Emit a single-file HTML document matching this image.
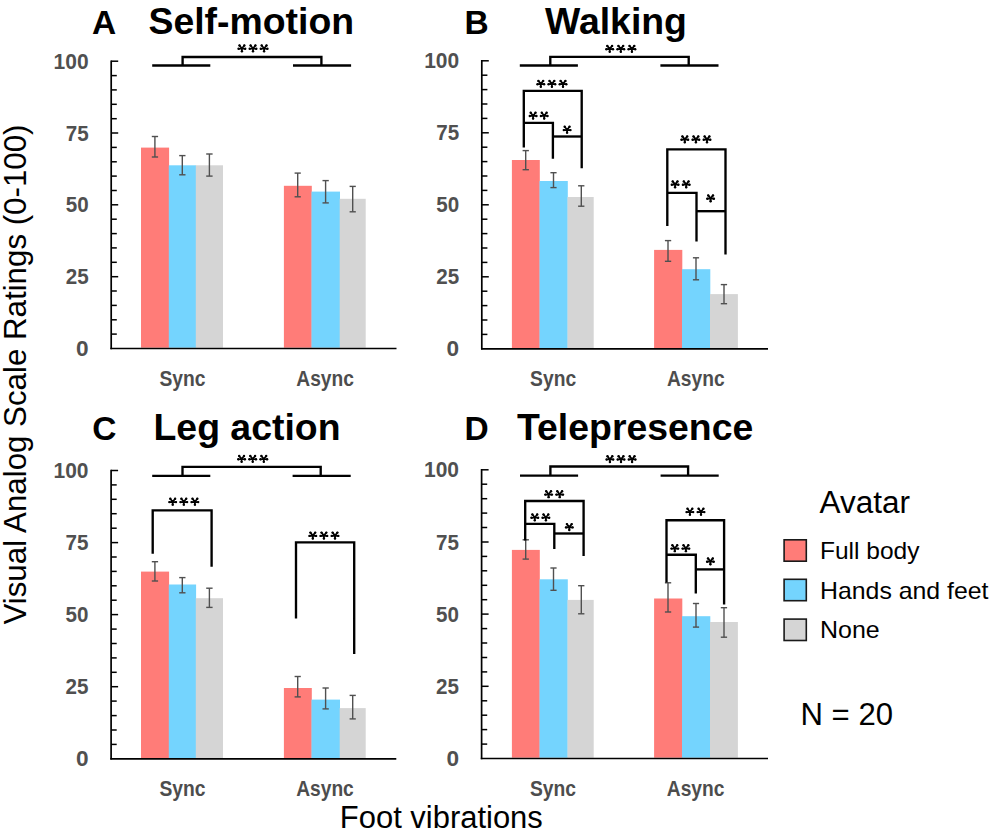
<!DOCTYPE html><html><head><meta charset="utf-8"><title>Chart</title><style>
html,body{margin:0;padding:0;background:#fff;overflow:hidden;width:992px;height:831px;}
svg{display:block;}
text{font-family:"Liberation Sans",sans-serif;}
.tk{font-weight:bold;font-size:22px;fill:#505050;}
.xl{font-weight:bold;font-size:22px;fill:#4d4d4d;}
.pl{font-weight:bold;font-size:33.5px;fill:#000;}
.tt{font-weight:bold;font-size:37.4px;fill:#000;}
.lg1{font-size:31px;fill:#000;}
.lg{font-size:24px;fill:#000;}
</style></head><body><svg width="992" height="831" viewBox="0 0 992 831">
<rect width="992" height="831" fill="#fff"/>
<rect x="141.00" y="147.6" width="28.10" height="200.1" fill="#FF7C78"/>
<rect x="168.80" y="165.3" width="27.30" height="182.4" fill="#74D4FE"/>
<rect x="195.80" y="165.3" width="27.20" height="182.4" fill="#D5D5D5"/>
<rect x="283.90" y="185.8" width="27.90" height="161.9" fill="#FF7C78"/>
<rect x="311.50" y="191.6" width="28.50" height="156.1" fill="#74D4FE"/>
<rect x="339.70" y="198.8" width="26.00" height="148.9" fill="#D5D5D5"/>
<line x1="154.9" y1="136.5" x2="154.9" y2="157.0" stroke="#505050" stroke-width="1.4"/>
<line x1="151.8" y1="136.5" x2="158.1" y2="136.5" stroke="#505050" stroke-width="1.4"/>
<line x1="151.8" y1="157.0" x2="158.1" y2="157.0" stroke="#505050" stroke-width="1.4"/>
<line x1="182.3" y1="155.6" x2="182.3" y2="174.8" stroke="#505050" stroke-width="1.4"/>
<line x1="179.2" y1="155.6" x2="185.5" y2="155.6" stroke="#505050" stroke-width="1.4"/>
<line x1="179.2" y1="174.8" x2="185.5" y2="174.8" stroke="#505050" stroke-width="1.4"/>
<line x1="209.4" y1="154.0" x2="209.4" y2="176.1" stroke="#505050" stroke-width="1.4"/>
<line x1="206.2" y1="154.0" x2="212.6" y2="154.0" stroke="#505050" stroke-width="1.4"/>
<line x1="206.2" y1="176.1" x2="212.6" y2="176.1" stroke="#505050" stroke-width="1.4"/>
<line x1="297.7" y1="173.1" x2="297.7" y2="196.8" stroke="#505050" stroke-width="1.4"/>
<line x1="294.6" y1="173.1" x2="300.8" y2="173.1" stroke="#505050" stroke-width="1.4"/>
<line x1="294.6" y1="196.8" x2="300.8" y2="196.8" stroke="#505050" stroke-width="1.4"/>
<line x1="325.6" y1="180.6" x2="325.6" y2="202.9" stroke="#505050" stroke-width="1.4"/>
<line x1="322.5" y1="180.6" x2="328.8" y2="180.6" stroke="#505050" stroke-width="1.4"/>
<line x1="322.5" y1="202.9" x2="328.8" y2="202.9" stroke="#505050" stroke-width="1.4"/>
<line x1="352.7" y1="186.4" x2="352.7" y2="211.8" stroke="#505050" stroke-width="1.4"/>
<line x1="349.6" y1="186.4" x2="355.8" y2="186.4" stroke="#505050" stroke-width="1.4"/>
<line x1="349.6" y1="211.8" x2="355.8" y2="211.8" stroke="#505050" stroke-width="1.4"/>
<line x1="111.2" y1="60.4" x2="111.2" y2="349.3" stroke="#000" stroke-width="1.7"/>
<line x1="110.4" y1="348.5" x2="396.5" y2="348.5" stroke="#000" stroke-width="1.7"/>
<line x1="111.2" y1="334.1" x2="116.8" y2="334.1" stroke="#000" stroke-width="1.5"/>
<line x1="111.2" y1="319.8" x2="116.8" y2="319.8" stroke="#000" stroke-width="1.5"/>
<line x1="111.2" y1="305.4" x2="116.8" y2="305.4" stroke="#000" stroke-width="1.5"/>
<line x1="111.2" y1="291.0" x2="116.8" y2="291.0" stroke="#000" stroke-width="1.5"/>
<line x1="111.2" y1="276.7" x2="118.2" y2="276.7" stroke="#000" stroke-width="1.5"/>
<line x1="111.2" y1="262.3" x2="116.8" y2="262.3" stroke="#000" stroke-width="1.5"/>
<line x1="111.2" y1="247.9" x2="116.8" y2="247.9" stroke="#000" stroke-width="1.5"/>
<line x1="111.2" y1="233.6" x2="116.8" y2="233.6" stroke="#000" stroke-width="1.5"/>
<line x1="111.2" y1="219.2" x2="116.8" y2="219.2" stroke="#000" stroke-width="1.5"/>
<line x1="111.2" y1="204.8" x2="118.2" y2="204.8" stroke="#000" stroke-width="1.5"/>
<line x1="111.2" y1="190.5" x2="116.8" y2="190.5" stroke="#000" stroke-width="1.5"/>
<line x1="111.2" y1="176.1" x2="116.8" y2="176.1" stroke="#000" stroke-width="1.5"/>
<line x1="111.2" y1="161.8" x2="116.8" y2="161.8" stroke="#000" stroke-width="1.5"/>
<line x1="111.2" y1="147.4" x2="116.8" y2="147.4" stroke="#000" stroke-width="1.5"/>
<line x1="111.2" y1="133.0" x2="118.2" y2="133.0" stroke="#000" stroke-width="1.5"/>
<line x1="111.2" y1="118.7" x2="116.8" y2="118.7" stroke="#000" stroke-width="1.5"/>
<line x1="111.2" y1="104.3" x2="116.8" y2="104.3" stroke="#000" stroke-width="1.5"/>
<line x1="111.2" y1="89.9" x2="116.8" y2="89.9" stroke="#000" stroke-width="1.5"/>
<line x1="111.2" y1="75.6" x2="116.8" y2="75.6" stroke="#000" stroke-width="1.5"/>
<line x1="111.2" y1="61.2" x2="118.2" y2="61.2" stroke="#000" stroke-width="1.5"/>
<text x="76.0" y="356.1" class="tk" textLength="12.60" lengthAdjust="spacingAndGlyphs">0</text>
<text x="65.7" y="284.3" class="tk" textLength="22.90" lengthAdjust="spacingAndGlyphs">25</text>
<text x="65.7" y="212.4" class="tk" textLength="22.90" lengthAdjust="spacingAndGlyphs">50</text>
<text x="65.7" y="140.6" class="tk" textLength="22.90" lengthAdjust="spacingAndGlyphs">75</text>
<text x="53.6" y="68.8" class="tk" textLength="35.00" lengthAdjust="spacingAndGlyphs">100</text>
<text x="159.5" y="385.9" class="xl" textLength="46.0" lengthAdjust="spacingAndGlyphs">Sync</text>
<text x="296.3" y="385.9" class="xl" textLength="57.6" lengthAdjust="spacingAndGlyphs">Async</text>
<rect x="511.90" y="160.0" width="27.90" height="188.0" fill="#FF7C78"/>
<rect x="539.50" y="181.0" width="28.30" height="167.0" fill="#74D4FE"/>
<rect x="567.50" y="197.0" width="26.20" height="151.0" fill="#D5D5D5"/>
<rect x="654.10" y="249.9" width="28.20" height="98.1" fill="#FF7C78"/>
<rect x="682.00" y="269.2" width="28.30" height="78.8" fill="#74D4FE"/>
<rect x="710.00" y="294.1" width="27.90" height="53.9" fill="#D5D5D5"/>
<line x1="525.7" y1="150.6" x2="525.7" y2="169.7" stroke="#505050" stroke-width="1.4"/>
<line x1="522.6" y1="150.6" x2="528.9" y2="150.6" stroke="#505050" stroke-width="1.4"/>
<line x1="522.6" y1="169.7" x2="528.9" y2="169.7" stroke="#505050" stroke-width="1.4"/>
<line x1="553.5" y1="172.7" x2="553.5" y2="187.6" stroke="#505050" stroke-width="1.4"/>
<line x1="550.4" y1="172.7" x2="556.6" y2="172.7" stroke="#505050" stroke-width="1.4"/>
<line x1="550.4" y1="187.6" x2="556.6" y2="187.6" stroke="#505050" stroke-width="1.4"/>
<line x1="581.3" y1="185.8" x2="581.3" y2="206.2" stroke="#505050" stroke-width="1.4"/>
<line x1="578.1" y1="185.8" x2="584.4" y2="185.8" stroke="#505050" stroke-width="1.4"/>
<line x1="578.1" y1="206.2" x2="584.4" y2="206.2" stroke="#505050" stroke-width="1.4"/>
<line x1="668.0" y1="240.6" x2="668.0" y2="261.3" stroke="#505050" stroke-width="1.4"/>
<line x1="664.9" y1="240.6" x2="671.2" y2="240.6" stroke="#505050" stroke-width="1.4"/>
<line x1="664.9" y1="261.3" x2="671.2" y2="261.3" stroke="#505050" stroke-width="1.4"/>
<line x1="696.0" y1="257.8" x2="696.0" y2="279.8" stroke="#505050" stroke-width="1.4"/>
<line x1="692.9" y1="257.8" x2="699.1" y2="257.8" stroke="#505050" stroke-width="1.4"/>
<line x1="692.9" y1="279.8" x2="699.1" y2="279.8" stroke="#505050" stroke-width="1.4"/>
<line x1="724.0" y1="284.6" x2="724.0" y2="303.7" stroke="#505050" stroke-width="1.4"/>
<line x1="720.8" y1="284.6" x2="727.1" y2="284.6" stroke="#505050" stroke-width="1.4"/>
<line x1="720.8" y1="303.7" x2="727.1" y2="303.7" stroke="#505050" stroke-width="1.4"/>
<line x1="481.8" y1="60.0" x2="481.8" y2="349.6" stroke="#000" stroke-width="1.7"/>
<line x1="481.0" y1="348.8" x2="768.0" y2="348.8" stroke="#000" stroke-width="1.7"/>
<line x1="481.8" y1="334.4" x2="487.4" y2="334.4" stroke="#000" stroke-width="1.5"/>
<line x1="481.8" y1="320.0" x2="487.4" y2="320.0" stroke="#000" stroke-width="1.5"/>
<line x1="481.8" y1="305.6" x2="487.4" y2="305.6" stroke="#000" stroke-width="1.5"/>
<line x1="481.8" y1="291.2" x2="487.4" y2="291.2" stroke="#000" stroke-width="1.5"/>
<line x1="481.8" y1="276.8" x2="488.8" y2="276.8" stroke="#000" stroke-width="1.5"/>
<line x1="481.8" y1="262.4" x2="487.4" y2="262.4" stroke="#000" stroke-width="1.5"/>
<line x1="481.8" y1="248.0" x2="487.4" y2="248.0" stroke="#000" stroke-width="1.5"/>
<line x1="481.8" y1="233.6" x2="487.4" y2="233.6" stroke="#000" stroke-width="1.5"/>
<line x1="481.8" y1="219.2" x2="487.4" y2="219.2" stroke="#000" stroke-width="1.5"/>
<line x1="481.8" y1="204.8" x2="488.8" y2="204.8" stroke="#000" stroke-width="1.5"/>
<line x1="481.8" y1="190.4" x2="487.4" y2="190.4" stroke="#000" stroke-width="1.5"/>
<line x1="481.8" y1="176.0" x2="487.4" y2="176.0" stroke="#000" stroke-width="1.5"/>
<line x1="481.8" y1="161.6" x2="487.4" y2="161.6" stroke="#000" stroke-width="1.5"/>
<line x1="481.8" y1="147.2" x2="487.4" y2="147.2" stroke="#000" stroke-width="1.5"/>
<line x1="481.8" y1="132.8" x2="488.8" y2="132.8" stroke="#000" stroke-width="1.5"/>
<line x1="481.8" y1="118.4" x2="487.4" y2="118.4" stroke="#000" stroke-width="1.5"/>
<line x1="481.8" y1="104.0" x2="487.4" y2="104.0" stroke="#000" stroke-width="1.5"/>
<line x1="481.8" y1="89.6" x2="487.4" y2="89.6" stroke="#000" stroke-width="1.5"/>
<line x1="481.8" y1="75.2" x2="487.4" y2="75.2" stroke="#000" stroke-width="1.5"/>
<line x1="481.8" y1="60.8" x2="488.8" y2="60.8" stroke="#000" stroke-width="1.5"/>
<text x="446.6" y="356.4" class="tk" textLength="12.60" lengthAdjust="spacingAndGlyphs">0</text>
<text x="436.3" y="284.4" class="tk" textLength="22.90" lengthAdjust="spacingAndGlyphs">25</text>
<text x="436.3" y="212.4" class="tk" textLength="22.90" lengthAdjust="spacingAndGlyphs">50</text>
<text x="436.3" y="140.4" class="tk" textLength="22.90" lengthAdjust="spacingAndGlyphs">75</text>
<text x="424.2" y="68.4" class="tk" textLength="35.00" lengthAdjust="spacingAndGlyphs">100</text>
<text x="530.1" y="386.2" class="xl" textLength="46.0" lengthAdjust="spacingAndGlyphs">Sync</text>
<text x="667.0" y="386.2" class="xl" textLength="57.6" lengthAdjust="spacingAndGlyphs">Async</text>
<rect x="141.00" y="571.6" width="28.10" height="186.4" fill="#FF7C78"/>
<rect x="168.80" y="584.5" width="27.30" height="173.5" fill="#74D4FE"/>
<rect x="195.80" y="598.2" width="27.20" height="159.8" fill="#D5D5D5"/>
<rect x="283.90" y="688.0" width="27.90" height="70.0" fill="#FF7C78"/>
<rect x="311.50" y="699.6" width="28.50" height="58.4" fill="#74D4FE"/>
<rect x="339.70" y="708.1" width="26.00" height="49.9" fill="#D5D5D5"/>
<line x1="154.9" y1="561.7" x2="154.9" y2="581.0" stroke="#505050" stroke-width="1.4"/>
<line x1="151.8" y1="561.7" x2="158.1" y2="561.7" stroke="#505050" stroke-width="1.4"/>
<line x1="151.8" y1="581.0" x2="158.1" y2="581.0" stroke="#505050" stroke-width="1.4"/>
<line x1="182.3" y1="577.6" x2="182.3" y2="592.8" stroke="#505050" stroke-width="1.4"/>
<line x1="179.2" y1="577.6" x2="185.5" y2="577.6" stroke="#505050" stroke-width="1.4"/>
<line x1="179.2" y1="592.8" x2="185.5" y2="592.8" stroke="#505050" stroke-width="1.4"/>
<line x1="209.4" y1="588.2" x2="209.4" y2="607.4" stroke="#505050" stroke-width="1.4"/>
<line x1="206.2" y1="588.2" x2="212.6" y2="588.2" stroke="#505050" stroke-width="1.4"/>
<line x1="206.2" y1="607.4" x2="212.6" y2="607.4" stroke="#505050" stroke-width="1.4"/>
<line x1="297.7" y1="676.5" x2="297.7" y2="696.9" stroke="#505050" stroke-width="1.4"/>
<line x1="294.6" y1="676.5" x2="300.8" y2="676.5" stroke="#505050" stroke-width="1.4"/>
<line x1="294.6" y1="696.9" x2="300.8" y2="696.9" stroke="#505050" stroke-width="1.4"/>
<line x1="325.6" y1="688.0" x2="325.6" y2="708.9" stroke="#505050" stroke-width="1.4"/>
<line x1="322.5" y1="688.0" x2="328.8" y2="688.0" stroke="#505050" stroke-width="1.4"/>
<line x1="322.5" y1="708.9" x2="328.8" y2="708.9" stroke="#505050" stroke-width="1.4"/>
<line x1="352.7" y1="695.4" x2="352.7" y2="718.9" stroke="#505050" stroke-width="1.4"/>
<line x1="349.6" y1="695.4" x2="355.8" y2="695.4" stroke="#505050" stroke-width="1.4"/>
<line x1="349.6" y1="718.9" x2="355.8" y2="718.9" stroke="#505050" stroke-width="1.4"/>
<line x1="111.1" y1="469.7" x2="111.1" y2="759.6" stroke="#000" stroke-width="1.7"/>
<line x1="110.3" y1="758.8" x2="396.3" y2="758.8" stroke="#000" stroke-width="1.7"/>
<line x1="111.1" y1="744.4" x2="116.7" y2="744.4" stroke="#000" stroke-width="1.5"/>
<line x1="111.1" y1="730.0" x2="116.7" y2="730.0" stroke="#000" stroke-width="1.5"/>
<line x1="111.1" y1="715.6" x2="116.7" y2="715.6" stroke="#000" stroke-width="1.5"/>
<line x1="111.1" y1="701.1" x2="116.7" y2="701.1" stroke="#000" stroke-width="1.5"/>
<line x1="111.1" y1="686.7" x2="118.1" y2="686.7" stroke="#000" stroke-width="1.5"/>
<line x1="111.1" y1="672.3" x2="116.7" y2="672.3" stroke="#000" stroke-width="1.5"/>
<line x1="111.1" y1="657.9" x2="116.7" y2="657.9" stroke="#000" stroke-width="1.5"/>
<line x1="111.1" y1="643.5" x2="116.7" y2="643.5" stroke="#000" stroke-width="1.5"/>
<line x1="111.1" y1="629.1" x2="116.7" y2="629.1" stroke="#000" stroke-width="1.5"/>
<line x1="111.1" y1="614.6" x2="118.1" y2="614.6" stroke="#000" stroke-width="1.5"/>
<line x1="111.1" y1="600.2" x2="116.7" y2="600.2" stroke="#000" stroke-width="1.5"/>
<line x1="111.1" y1="585.8" x2="116.7" y2="585.8" stroke="#000" stroke-width="1.5"/>
<line x1="111.1" y1="571.4" x2="116.7" y2="571.4" stroke="#000" stroke-width="1.5"/>
<line x1="111.1" y1="557.0" x2="116.7" y2="557.0" stroke="#000" stroke-width="1.5"/>
<line x1="111.1" y1="542.6" x2="118.1" y2="542.6" stroke="#000" stroke-width="1.5"/>
<line x1="111.1" y1="528.2" x2="116.7" y2="528.2" stroke="#000" stroke-width="1.5"/>
<line x1="111.1" y1="513.7" x2="116.7" y2="513.7" stroke="#000" stroke-width="1.5"/>
<line x1="111.1" y1="499.3" x2="116.7" y2="499.3" stroke="#000" stroke-width="1.5"/>
<line x1="111.1" y1="484.9" x2="116.7" y2="484.9" stroke="#000" stroke-width="1.5"/>
<line x1="111.1" y1="470.5" x2="118.1" y2="470.5" stroke="#000" stroke-width="1.5"/>
<text x="75.9" y="766.4" class="tk" textLength="12.60" lengthAdjust="spacingAndGlyphs">0</text>
<text x="65.6" y="694.3" class="tk" textLength="22.90" lengthAdjust="spacingAndGlyphs">25</text>
<text x="65.6" y="622.2" class="tk" textLength="22.90" lengthAdjust="spacingAndGlyphs">50</text>
<text x="65.6" y="550.2" class="tk" textLength="22.90" lengthAdjust="spacingAndGlyphs">75</text>
<text x="53.5" y="478.1" class="tk" textLength="35.00" lengthAdjust="spacingAndGlyphs">100</text>
<text x="159.4" y="796.2" class="xl" textLength="46.0" lengthAdjust="spacingAndGlyphs">Sync</text>
<text x="296.2" y="796.2" class="xl" textLength="57.6" lengthAdjust="spacingAndGlyphs">Async</text>
<rect x="511.90" y="549.9" width="27.90" height="207.8" fill="#FF7C78"/>
<rect x="539.50" y="579.3" width="28.30" height="178.4" fill="#74D4FE"/>
<rect x="567.50" y="599.9" width="26.20" height="157.8" fill="#D5D5D5"/>
<rect x="654.10" y="598.5" width="28.20" height="159.2" fill="#FF7C78"/>
<rect x="682.00" y="616.2" width="28.30" height="141.5" fill="#74D4FE"/>
<rect x="710.00" y="622.0" width="27.90" height="135.7" fill="#D5D5D5"/>
<line x1="525.7" y1="539.8" x2="525.7" y2="559.1" stroke="#505050" stroke-width="1.4"/>
<line x1="522.6" y1="539.8" x2="528.9" y2="539.8" stroke="#505050" stroke-width="1.4"/>
<line x1="522.6" y1="559.1" x2="528.9" y2="559.1" stroke="#505050" stroke-width="1.4"/>
<line x1="553.5" y1="568.0" x2="553.5" y2="590.3" stroke="#505050" stroke-width="1.4"/>
<line x1="550.4" y1="568.0" x2="556.6" y2="568.0" stroke="#505050" stroke-width="1.4"/>
<line x1="550.4" y1="590.3" x2="556.6" y2="590.3" stroke="#505050" stroke-width="1.4"/>
<line x1="581.3" y1="585.7" x2="581.3" y2="613.8" stroke="#505050" stroke-width="1.4"/>
<line x1="578.1" y1="585.7" x2="584.4" y2="585.7" stroke="#505050" stroke-width="1.4"/>
<line x1="578.1" y1="613.8" x2="584.4" y2="613.8" stroke="#505050" stroke-width="1.4"/>
<line x1="668.0" y1="582.8" x2="668.0" y2="612.0" stroke="#505050" stroke-width="1.4"/>
<line x1="664.9" y1="582.8" x2="671.2" y2="582.8" stroke="#505050" stroke-width="1.4"/>
<line x1="664.9" y1="612.0" x2="671.2" y2="612.0" stroke="#505050" stroke-width="1.4"/>
<line x1="696.0" y1="603.5" x2="696.0" y2="627.1" stroke="#505050" stroke-width="1.4"/>
<line x1="692.9" y1="603.5" x2="699.1" y2="603.5" stroke="#505050" stroke-width="1.4"/>
<line x1="692.9" y1="627.1" x2="699.1" y2="627.1" stroke="#505050" stroke-width="1.4"/>
<line x1="724.0" y1="607.7" x2="724.0" y2="637.2" stroke="#505050" stroke-width="1.4"/>
<line x1="720.8" y1="607.7" x2="727.1" y2="607.7" stroke="#505050" stroke-width="1.4"/>
<line x1="720.8" y1="637.2" x2="727.1" y2="637.2" stroke="#505050" stroke-width="1.4"/>
<line x1="481.6" y1="469.0" x2="481.6" y2="759.3" stroke="#000" stroke-width="1.7"/>
<line x1="480.8" y1="758.5" x2="768.0" y2="758.5" stroke="#000" stroke-width="1.7"/>
<line x1="481.6" y1="744.1" x2="487.2" y2="744.1" stroke="#000" stroke-width="1.5"/>
<line x1="481.6" y1="729.6" x2="487.2" y2="729.6" stroke="#000" stroke-width="1.5"/>
<line x1="481.6" y1="715.2" x2="487.2" y2="715.2" stroke="#000" stroke-width="1.5"/>
<line x1="481.6" y1="700.8" x2="487.2" y2="700.8" stroke="#000" stroke-width="1.5"/>
<line x1="481.6" y1="686.3" x2="488.6" y2="686.3" stroke="#000" stroke-width="1.5"/>
<line x1="481.6" y1="671.9" x2="487.2" y2="671.9" stroke="#000" stroke-width="1.5"/>
<line x1="481.6" y1="657.5" x2="487.2" y2="657.5" stroke="#000" stroke-width="1.5"/>
<line x1="481.6" y1="643.0" x2="487.2" y2="643.0" stroke="#000" stroke-width="1.5"/>
<line x1="481.6" y1="628.6" x2="487.2" y2="628.6" stroke="#000" stroke-width="1.5"/>
<line x1="481.6" y1="614.1" x2="488.6" y2="614.1" stroke="#000" stroke-width="1.5"/>
<line x1="481.6" y1="599.7" x2="487.2" y2="599.7" stroke="#000" stroke-width="1.5"/>
<line x1="481.6" y1="585.3" x2="487.2" y2="585.3" stroke="#000" stroke-width="1.5"/>
<line x1="481.6" y1="570.8" x2="487.2" y2="570.8" stroke="#000" stroke-width="1.5"/>
<line x1="481.6" y1="556.4" x2="487.2" y2="556.4" stroke="#000" stroke-width="1.5"/>
<line x1="481.6" y1="542.0" x2="488.6" y2="542.0" stroke="#000" stroke-width="1.5"/>
<line x1="481.6" y1="527.5" x2="487.2" y2="527.5" stroke="#000" stroke-width="1.5"/>
<line x1="481.6" y1="513.1" x2="487.2" y2="513.1" stroke="#000" stroke-width="1.5"/>
<line x1="481.6" y1="498.7" x2="487.2" y2="498.7" stroke="#000" stroke-width="1.5"/>
<line x1="481.6" y1="484.2" x2="487.2" y2="484.2" stroke="#000" stroke-width="1.5"/>
<line x1="481.6" y1="469.8" x2="488.6" y2="469.8" stroke="#000" stroke-width="1.5"/>
<text x="446.4" y="766.1" class="tk" textLength="12.60" lengthAdjust="spacingAndGlyphs">0</text>
<text x="436.1" y="693.9" class="tk" textLength="22.90" lengthAdjust="spacingAndGlyphs">25</text>
<text x="436.1" y="621.8" class="tk" textLength="22.90" lengthAdjust="spacingAndGlyphs">50</text>
<text x="436.1" y="549.6" class="tk" textLength="22.90" lengthAdjust="spacingAndGlyphs">75</text>
<text x="424.0" y="477.4" class="tk" textLength="35.00" lengthAdjust="spacingAndGlyphs">100</text>
<text x="529.9" y="795.9" class="xl" textLength="46.0" lengthAdjust="spacingAndGlyphs">Sync</text>
<text x="666.8" y="795.9" class="xl" textLength="57.6" lengthAdjust="spacingAndGlyphs">Async</text>
<text x="92" y="34.3" class="pl">A</text>
<text x="464.6" y="34" class="pl">B</text>
<text x="92.3" y="439.6" class="pl">C</text>
<text x="464.5" y="440" class="pl">D</text>
<text x="148.5" y="34.3" class="tt">Self-motion</text>
<text x="545" y="34" class="tt">Walking</text>
<text x="153.5" y="439.6" class="tt">Leg action</text>
<text x="517" y="440" class="tt">Telepresence</text>
<line x1="152.2" y1="65.5" x2="210.3" y2="65.5" stroke="#000" stroke-width="2.35"/>
<line x1="293.0" y1="65.5" x2="351.1" y2="65.5" stroke="#000" stroke-width="2.35"/>
<polyline points="182.6,65.5 182.6,57.0 321.4,57.0 321.4,65.5" fill="none" stroke="#000" stroke-width="2.35" stroke-linejoin="miter" stroke-linecap="butt"/>
<line x1="519.8" y1="65.5" x2="577.9" y2="65.5" stroke="#000" stroke-width="2.35"/>
<line x1="660.4" y1="65.5" x2="718.5" y2="65.5" stroke="#000" stroke-width="2.35"/>
<polyline points="550.3,65.5 550.3,56.8 688.7,56.8 688.7,65.5" fill="none" stroke="#000" stroke-width="2.35" stroke-linejoin="miter" stroke-linecap="butt"/>
<line x1="152.2" y1="475.8" x2="210.3" y2="475.8" stroke="#000" stroke-width="2.35"/>
<line x1="292.6" y1="475.8" x2="350.7" y2="475.8" stroke="#000" stroke-width="2.35"/>
<polyline points="182.5,475.8 182.5,466.9 320.7,466.9 320.7,475.8" fill="none" stroke="#000" stroke-width="2.35" stroke-linejoin="miter" stroke-linecap="butt"/>
<line x1="520.0" y1="475.6" x2="578.1" y2="475.6" stroke="#000" stroke-width="2.35"/>
<line x1="660.6" y1="475.6" x2="718.7" y2="475.6" stroke="#000" stroke-width="2.35"/>
<polyline points="550.4,475.6 550.4,466.5 688.1,466.5 688.1,475.6" fill="none" stroke="#000" stroke-width="2.35" stroke-linejoin="miter" stroke-linecap="butt"/>
<polyline points="523.8,147.5 523.8,90.8 581.7,90.8 581.7,168.3" fill="none" stroke="#000" stroke-width="2.35" stroke-linejoin="miter" stroke-linecap="butt"/>
<polyline points="523.8,122.9 552.9,122.9 552.9,158.7" fill="none" stroke="#000" stroke-width="2.35" stroke-linejoin="miter" stroke-linecap="butt"/>
<polyline points="552.9,136.5 581.7,136.5" fill="none" stroke="#000" stroke-width="2.35" stroke-linejoin="miter" stroke-linecap="butt"/>
<polyline points="667.3,226.1 667.3,149.4 725.5,149.4 725.5,254.6" fill="none" stroke="#000" stroke-width="2.35" stroke-linejoin="miter" stroke-linecap="butt"/>
<polyline points="667.3,192.9 696.5,192.9 696.5,241.5" fill="none" stroke="#000" stroke-width="2.35" stroke-linejoin="miter" stroke-linecap="butt"/>
<polyline points="696.5,211.2 725.5,211.2" fill="none" stroke="#000" stroke-width="2.35" stroke-linejoin="miter" stroke-linecap="butt"/>
<polyline points="152.7,553.7 152.7,510.3 211.6,510.3 211.6,566.8" fill="none" stroke="#000" stroke-width="2.35" stroke-linejoin="miter" stroke-linecap="butt"/>
<polyline points="296.0,618.5 296.0,542.4 354.2,542.4 354.2,654.0" fill="none" stroke="#000" stroke-width="2.35" stroke-linejoin="miter" stroke-linecap="butt"/>
<polyline points="525.2,540.6 525.2,501.0 583.6,501.0 583.6,556.1" fill="none" stroke="#000" stroke-width="2.35" stroke-linejoin="miter" stroke-linecap="butt"/>
<polyline points="525.2,523.8 554.3,523.8 554.3,549.0" fill="none" stroke="#000" stroke-width="2.35" stroke-linejoin="miter" stroke-linecap="butt"/>
<polyline points="554.3,533.5 583.6,533.5" fill="none" stroke="#000" stroke-width="2.35" stroke-linejoin="miter" stroke-linecap="butt"/>
<polyline points="666.5,582.5 666.5,520.2 724.1,520.2 724.1,604.4" fill="none" stroke="#000" stroke-width="2.35" stroke-linejoin="miter" stroke-linecap="butt"/>
<polyline points="666.5,554.7 695.8,554.7 695.8,593.4" fill="none" stroke="#000" stroke-width="2.35" stroke-linejoin="miter" stroke-linecap="butt"/>
<polyline points="695.8,569.4 724.1,569.4" fill="none" stroke="#000" stroke-width="2.35" stroke-linejoin="miter" stroke-linecap="butt"/>
<path d="M241.90,48.50L239.50,45.50M241.90,48.50L244.30,45.50M241.90,48.50L238.60,48.80M241.90,48.50L245.20,48.80M241.90,48.50L241.90,51.35M253.00,48.50L250.60,45.50M253.00,48.50L255.40,45.50M253.00,48.50L249.70,48.80M253.00,48.50L256.30,48.80M253.00,48.50L253.00,51.35M264.10,48.50L261.70,45.50M264.10,48.50L266.50,45.50M264.10,48.50L260.80,48.80M264.10,48.50L267.40,48.80M264.10,48.50L264.10,51.35M609.70,48.90L607.30,45.90M609.70,48.90L612.10,45.90M609.70,48.90L606.40,49.20M609.70,48.90L613.00,49.20M609.70,48.90L609.70,51.75M620.80,48.90L618.40,45.90M620.80,48.90L623.20,45.90M620.80,48.90L617.50,49.20M620.80,48.90L624.10,49.20M620.80,48.90L620.80,51.75M631.90,48.90L629.50,45.90M631.90,48.90L634.30,45.90M631.90,48.90L628.60,49.20M631.90,48.90L635.20,49.20M631.90,48.90L631.90,51.75M540.80,83.90L538.40,80.90M540.80,83.90L543.20,80.90M540.80,83.90L537.50,84.20M540.80,83.90L544.10,84.20M540.80,83.90L540.80,86.75M551.90,83.90L549.50,80.90M551.90,83.90L554.30,80.90M551.90,83.90L548.60,84.20M551.90,83.90L555.20,84.20M551.90,83.90L551.90,86.75M563.00,83.90L560.60,80.90M563.00,83.90L565.40,80.90M563.00,83.90L559.70,84.20M563.00,83.90L566.30,84.20M563.00,83.90L563.00,86.75M533.10,115.70L530.70,112.70M533.10,115.70L535.50,112.70M533.10,115.70L529.80,116.00M533.10,115.70L536.40,116.00M533.10,115.70L533.10,118.55M544.20,115.70L541.80,112.70M544.20,115.70L546.60,112.70M544.20,115.70L540.90,116.00M544.20,115.70L547.50,116.00M544.20,115.70L544.20,118.55M567.10,129.80L564.70,126.80M567.10,129.80L569.50,126.80M567.10,129.80L563.80,130.10M567.10,129.80L570.40,130.10M567.10,129.80L567.10,132.65M684.80,139.40L682.40,136.40M684.80,139.40L687.20,136.40M684.80,139.40L681.50,139.70M684.80,139.40L688.10,139.70M684.80,139.40L684.80,142.25M695.90,139.40L693.50,136.40M695.90,139.40L698.30,136.40M695.90,139.40L692.60,139.70M695.90,139.40L699.20,139.70M695.90,139.40L695.90,142.25M707.00,139.40L704.60,136.40M707.00,139.40L709.40,136.40M707.00,139.40L703.70,139.70M707.00,139.40L710.30,139.70M707.00,139.40L707.00,142.25M675.10,184.40L672.70,181.40M675.10,184.40L677.50,181.40M675.10,184.40L671.80,184.70M675.10,184.40L678.40,184.70M675.10,184.40L675.10,187.25M686.20,184.40L683.80,181.40M686.20,184.40L688.60,181.40M686.20,184.40L682.90,184.70M686.20,184.40L689.50,184.70M686.20,184.40L686.20,187.25M710.60,198.40L708.20,195.40M710.60,198.40L713.00,195.40M710.60,198.40L707.30,198.70M710.60,198.40L713.90,198.70M710.60,198.40L710.60,201.25M241.60,459.00L239.20,456.00M241.60,459.00L244.00,456.00M241.60,459.00L238.30,459.30M241.60,459.00L244.90,459.30M241.60,459.00L241.60,461.85M252.70,459.00L250.30,456.00M252.70,459.00L255.10,456.00M252.70,459.00L249.40,459.30M252.70,459.00L256.00,459.30M252.70,459.00L252.70,461.85M263.80,459.00L261.40,456.00M263.80,459.00L266.20,456.00M263.80,459.00L260.50,459.30M263.80,459.00L267.10,459.30M263.80,459.00L263.80,461.85M172.70,501.80L170.30,498.80M172.70,501.80L175.10,498.80M172.70,501.80L169.40,502.10M172.70,501.80L176.00,502.10M172.70,501.80L172.70,504.65M183.80,501.80L181.40,498.80M183.80,501.80L186.20,498.80M183.80,501.80L180.50,502.10M183.80,501.80L187.10,502.10M183.80,501.80L183.80,504.65M194.90,501.80L192.50,498.80M194.90,501.80L197.30,498.80M194.90,501.80L191.60,502.10M194.90,501.80L198.20,502.10M194.90,501.80L194.90,504.65M312.80,535.60L310.40,532.60M312.80,535.60L315.20,532.60M312.80,535.60L309.50,535.90M312.80,535.60L316.10,535.90M312.80,535.60L312.80,538.45M323.90,535.60L321.50,532.60M323.90,535.60L326.30,532.60M323.90,535.60L320.60,535.90M323.90,535.60L327.20,535.90M323.90,535.60L323.90,538.45M335.00,535.60L332.60,532.60M335.00,535.60L337.40,532.60M335.00,535.60L331.70,535.90M335.00,535.60L338.30,535.90M335.00,535.60L335.00,538.45M609.90,459.20L607.50,456.20M609.90,459.20L612.30,456.20M609.90,459.20L606.60,459.50M609.90,459.20L613.20,459.50M609.90,459.20L609.90,462.05M621.00,459.20L618.60,456.20M621.00,459.20L623.40,456.20M621.00,459.20L617.70,459.50M621.00,459.20L624.30,459.50M621.00,459.20L621.00,462.05M632.10,459.20L629.70,456.20M632.10,459.20L634.50,456.20M632.10,459.20L628.80,459.50M632.10,459.20L635.40,459.50M632.10,459.20L632.10,462.05M548.60,494.30L546.20,491.30M548.60,494.30L551.00,491.30M548.60,494.30L545.30,494.60M548.60,494.30L551.90,494.60M548.60,494.30L548.60,497.15M559.70,494.30L557.30,491.30M559.70,494.30L562.10,491.30M559.70,494.30L556.40,494.60M559.70,494.30L563.00,494.60M559.70,494.30L559.70,497.15M534.80,517.50L532.40,514.50M534.80,517.50L537.20,514.50M534.80,517.50L531.50,517.80M534.80,517.50L538.10,517.80M534.80,517.50L534.80,520.35M545.90,517.50L543.50,514.50M545.90,517.50L548.30,514.50M545.90,517.50L542.60,517.80M545.90,517.50L549.20,517.80M545.90,517.50L545.90,520.35M569.30,527.10L566.90,524.10M569.30,527.10L571.70,524.10M569.30,527.10L566.00,527.40M569.30,527.10L572.60,527.40M569.30,527.10L569.30,529.95M689.90,511.80L687.50,508.80M689.90,511.80L692.30,508.80M689.90,511.80L686.60,512.10M689.90,511.80L693.20,512.10M689.90,511.80L689.90,514.65M701.00,511.80L698.60,508.80M701.00,511.80L703.40,508.80M701.00,511.80L697.70,512.10M701.00,511.80L704.30,512.10M701.00,511.80L701.00,514.65M674.80,548.30L672.40,545.30M674.80,548.30L677.20,545.30M674.80,548.30L671.50,548.60M674.80,548.30L678.10,548.60M674.80,548.30L674.80,551.15M685.90,548.30L683.50,545.30M685.90,548.30L688.30,545.30M685.90,548.30L682.60,548.60M685.90,548.30L689.20,548.60M685.90,548.30L685.90,551.15M710.40,561.40L708.00,558.40M710.40,561.40L712.80,558.40M710.40,561.40L707.10,561.70M710.40,561.40L713.70,561.70M710.40,561.40L710.40,564.25" stroke="#000" stroke-width="1.75" stroke-linecap="round" fill="none"/>
<g fill="#000"><circle cx="239.50" cy="45.50" r="1.2"/><circle cx="244.30" cy="45.50" r="1.2"/><circle cx="238.60" cy="48.80" r="1.2"/><circle cx="245.20" cy="48.80" r="1.2"/><circle cx="241.90" cy="51.35" r="1.2"/><circle cx="250.60" cy="45.50" r="1.2"/><circle cx="255.40" cy="45.50" r="1.2"/><circle cx="249.70" cy="48.80" r="1.2"/><circle cx="256.30" cy="48.80" r="1.2"/><circle cx="253.00" cy="51.35" r="1.2"/><circle cx="261.70" cy="45.50" r="1.2"/><circle cx="266.50" cy="45.50" r="1.2"/><circle cx="260.80" cy="48.80" r="1.2"/><circle cx="267.40" cy="48.80" r="1.2"/><circle cx="264.10" cy="51.35" r="1.2"/><circle cx="607.30" cy="45.90" r="1.2"/><circle cx="612.10" cy="45.90" r="1.2"/><circle cx="606.40" cy="49.20" r="1.2"/><circle cx="613.00" cy="49.20" r="1.2"/><circle cx="609.70" cy="51.75" r="1.2"/><circle cx="618.40" cy="45.90" r="1.2"/><circle cx="623.20" cy="45.90" r="1.2"/><circle cx="617.50" cy="49.20" r="1.2"/><circle cx="624.10" cy="49.20" r="1.2"/><circle cx="620.80" cy="51.75" r="1.2"/><circle cx="629.50" cy="45.90" r="1.2"/><circle cx="634.30" cy="45.90" r="1.2"/><circle cx="628.60" cy="49.20" r="1.2"/><circle cx="635.20" cy="49.20" r="1.2"/><circle cx="631.90" cy="51.75" r="1.2"/><circle cx="538.40" cy="80.90" r="1.2"/><circle cx="543.20" cy="80.90" r="1.2"/><circle cx="537.50" cy="84.20" r="1.2"/><circle cx="544.10" cy="84.20" r="1.2"/><circle cx="540.80" cy="86.75" r="1.2"/><circle cx="549.50" cy="80.90" r="1.2"/><circle cx="554.30" cy="80.90" r="1.2"/><circle cx="548.60" cy="84.20" r="1.2"/><circle cx="555.20" cy="84.20" r="1.2"/><circle cx="551.90" cy="86.75" r="1.2"/><circle cx="560.60" cy="80.90" r="1.2"/><circle cx="565.40" cy="80.90" r="1.2"/><circle cx="559.70" cy="84.20" r="1.2"/><circle cx="566.30" cy="84.20" r="1.2"/><circle cx="563.00" cy="86.75" r="1.2"/><circle cx="530.70" cy="112.70" r="1.2"/><circle cx="535.50" cy="112.70" r="1.2"/><circle cx="529.80" cy="116.00" r="1.2"/><circle cx="536.40" cy="116.00" r="1.2"/><circle cx="533.10" cy="118.55" r="1.2"/><circle cx="541.80" cy="112.70" r="1.2"/><circle cx="546.60" cy="112.70" r="1.2"/><circle cx="540.90" cy="116.00" r="1.2"/><circle cx="547.50" cy="116.00" r="1.2"/><circle cx="544.20" cy="118.55" r="1.2"/><circle cx="564.70" cy="126.80" r="1.2"/><circle cx="569.50" cy="126.80" r="1.2"/><circle cx="563.80" cy="130.10" r="1.2"/><circle cx="570.40" cy="130.10" r="1.2"/><circle cx="567.10" cy="132.65" r="1.2"/><circle cx="682.40" cy="136.40" r="1.2"/><circle cx="687.20" cy="136.40" r="1.2"/><circle cx="681.50" cy="139.70" r="1.2"/><circle cx="688.10" cy="139.70" r="1.2"/><circle cx="684.80" cy="142.25" r="1.2"/><circle cx="693.50" cy="136.40" r="1.2"/><circle cx="698.30" cy="136.40" r="1.2"/><circle cx="692.60" cy="139.70" r="1.2"/><circle cx="699.20" cy="139.70" r="1.2"/><circle cx="695.90" cy="142.25" r="1.2"/><circle cx="704.60" cy="136.40" r="1.2"/><circle cx="709.40" cy="136.40" r="1.2"/><circle cx="703.70" cy="139.70" r="1.2"/><circle cx="710.30" cy="139.70" r="1.2"/><circle cx="707.00" cy="142.25" r="1.2"/><circle cx="672.70" cy="181.40" r="1.2"/><circle cx="677.50" cy="181.40" r="1.2"/><circle cx="671.80" cy="184.70" r="1.2"/><circle cx="678.40" cy="184.70" r="1.2"/><circle cx="675.10" cy="187.25" r="1.2"/><circle cx="683.80" cy="181.40" r="1.2"/><circle cx="688.60" cy="181.40" r="1.2"/><circle cx="682.90" cy="184.70" r="1.2"/><circle cx="689.50" cy="184.70" r="1.2"/><circle cx="686.20" cy="187.25" r="1.2"/><circle cx="708.20" cy="195.40" r="1.2"/><circle cx="713.00" cy="195.40" r="1.2"/><circle cx="707.30" cy="198.70" r="1.2"/><circle cx="713.90" cy="198.70" r="1.2"/><circle cx="710.60" cy="201.25" r="1.2"/><circle cx="239.20" cy="456.00" r="1.2"/><circle cx="244.00" cy="456.00" r="1.2"/><circle cx="238.30" cy="459.30" r="1.2"/><circle cx="244.90" cy="459.30" r="1.2"/><circle cx="241.60" cy="461.85" r="1.2"/><circle cx="250.30" cy="456.00" r="1.2"/><circle cx="255.10" cy="456.00" r="1.2"/><circle cx="249.40" cy="459.30" r="1.2"/><circle cx="256.00" cy="459.30" r="1.2"/><circle cx="252.70" cy="461.85" r="1.2"/><circle cx="261.40" cy="456.00" r="1.2"/><circle cx="266.20" cy="456.00" r="1.2"/><circle cx="260.50" cy="459.30" r="1.2"/><circle cx="267.10" cy="459.30" r="1.2"/><circle cx="263.80" cy="461.85" r="1.2"/><circle cx="170.30" cy="498.80" r="1.2"/><circle cx="175.10" cy="498.80" r="1.2"/><circle cx="169.40" cy="502.10" r="1.2"/><circle cx="176.00" cy="502.10" r="1.2"/><circle cx="172.70" cy="504.65" r="1.2"/><circle cx="181.40" cy="498.80" r="1.2"/><circle cx="186.20" cy="498.80" r="1.2"/><circle cx="180.50" cy="502.10" r="1.2"/><circle cx="187.10" cy="502.10" r="1.2"/><circle cx="183.80" cy="504.65" r="1.2"/><circle cx="192.50" cy="498.80" r="1.2"/><circle cx="197.30" cy="498.80" r="1.2"/><circle cx="191.60" cy="502.10" r="1.2"/><circle cx="198.20" cy="502.10" r="1.2"/><circle cx="194.90" cy="504.65" r="1.2"/><circle cx="310.40" cy="532.60" r="1.2"/><circle cx="315.20" cy="532.60" r="1.2"/><circle cx="309.50" cy="535.90" r="1.2"/><circle cx="316.10" cy="535.90" r="1.2"/><circle cx="312.80" cy="538.45" r="1.2"/><circle cx="321.50" cy="532.60" r="1.2"/><circle cx="326.30" cy="532.60" r="1.2"/><circle cx="320.60" cy="535.90" r="1.2"/><circle cx="327.20" cy="535.90" r="1.2"/><circle cx="323.90" cy="538.45" r="1.2"/><circle cx="332.60" cy="532.60" r="1.2"/><circle cx="337.40" cy="532.60" r="1.2"/><circle cx="331.70" cy="535.90" r="1.2"/><circle cx="338.30" cy="535.90" r="1.2"/><circle cx="335.00" cy="538.45" r="1.2"/><circle cx="607.50" cy="456.20" r="1.2"/><circle cx="612.30" cy="456.20" r="1.2"/><circle cx="606.60" cy="459.50" r="1.2"/><circle cx="613.20" cy="459.50" r="1.2"/><circle cx="609.90" cy="462.05" r="1.2"/><circle cx="618.60" cy="456.20" r="1.2"/><circle cx="623.40" cy="456.20" r="1.2"/><circle cx="617.70" cy="459.50" r="1.2"/><circle cx="624.30" cy="459.50" r="1.2"/><circle cx="621.00" cy="462.05" r="1.2"/><circle cx="629.70" cy="456.20" r="1.2"/><circle cx="634.50" cy="456.20" r="1.2"/><circle cx="628.80" cy="459.50" r="1.2"/><circle cx="635.40" cy="459.50" r="1.2"/><circle cx="632.10" cy="462.05" r="1.2"/><circle cx="546.20" cy="491.30" r="1.2"/><circle cx="551.00" cy="491.30" r="1.2"/><circle cx="545.30" cy="494.60" r="1.2"/><circle cx="551.90" cy="494.60" r="1.2"/><circle cx="548.60" cy="497.15" r="1.2"/><circle cx="557.30" cy="491.30" r="1.2"/><circle cx="562.10" cy="491.30" r="1.2"/><circle cx="556.40" cy="494.60" r="1.2"/><circle cx="563.00" cy="494.60" r="1.2"/><circle cx="559.70" cy="497.15" r="1.2"/><circle cx="532.40" cy="514.50" r="1.2"/><circle cx="537.20" cy="514.50" r="1.2"/><circle cx="531.50" cy="517.80" r="1.2"/><circle cx="538.10" cy="517.80" r="1.2"/><circle cx="534.80" cy="520.35" r="1.2"/><circle cx="543.50" cy="514.50" r="1.2"/><circle cx="548.30" cy="514.50" r="1.2"/><circle cx="542.60" cy="517.80" r="1.2"/><circle cx="549.20" cy="517.80" r="1.2"/><circle cx="545.90" cy="520.35" r="1.2"/><circle cx="566.90" cy="524.10" r="1.2"/><circle cx="571.70" cy="524.10" r="1.2"/><circle cx="566.00" cy="527.40" r="1.2"/><circle cx="572.60" cy="527.40" r="1.2"/><circle cx="569.30" cy="529.95" r="1.2"/><circle cx="687.50" cy="508.80" r="1.2"/><circle cx="692.30" cy="508.80" r="1.2"/><circle cx="686.60" cy="512.10" r="1.2"/><circle cx="693.20" cy="512.10" r="1.2"/><circle cx="689.90" cy="514.65" r="1.2"/><circle cx="698.60" cy="508.80" r="1.2"/><circle cx="703.40" cy="508.80" r="1.2"/><circle cx="697.70" cy="512.10" r="1.2"/><circle cx="704.30" cy="512.10" r="1.2"/><circle cx="701.00" cy="514.65" r="1.2"/><circle cx="672.40" cy="545.30" r="1.2"/><circle cx="677.20" cy="545.30" r="1.2"/><circle cx="671.50" cy="548.60" r="1.2"/><circle cx="678.10" cy="548.60" r="1.2"/><circle cx="674.80" cy="551.15" r="1.2"/><circle cx="683.50" cy="545.30" r="1.2"/><circle cx="688.30" cy="545.30" r="1.2"/><circle cx="682.60" cy="548.60" r="1.2"/><circle cx="689.20" cy="548.60" r="1.2"/><circle cx="685.90" cy="551.15" r="1.2"/><circle cx="708.00" cy="558.40" r="1.2"/><circle cx="712.80" cy="558.40" r="1.2"/><circle cx="707.10" cy="561.70" r="1.2"/><circle cx="713.70" cy="561.70" r="1.2"/><circle cx="710.40" cy="564.25" r="1.2"/></g>
<text x="819.5" y="512.7" class="lg1" textLength="90.5" lengthAdjust="spacingAndGlyphs">Avatar</text>
<rect x="784.1" y="539.8" width="22.2" height="21.4" fill="#FF7C78" stroke="#1a1a1a" stroke-width="1.6"/>
<text x="820" y="558.8" class="lg" textLength="99.5" lengthAdjust="spacingAndGlyphs">Full body</text>
<rect x="784.1" y="579.3" width="22.2" height="21.4" fill="#74D4FE" stroke="#1a1a1a" stroke-width="1.6"/>
<text x="820" y="599.1" class="lg" textLength="168.5" lengthAdjust="spacingAndGlyphs">Hands and feet</text>
<rect x="784.1" y="619.1" width="22.2" height="21.4" fill="#D5D5D5" stroke="#1a1a1a" stroke-width="1.6"/>
<text x="820" y="637.8" class="lg" textLength="59.7" lengthAdjust="spacingAndGlyphs">None</text>
<text x="800.5" y="725.1" class="lg1" textLength="92.5" lengthAdjust="spacingAndGlyphs">N = 20</text>
<text x="339.8" y="827.5" class="lg1" textLength="203" lengthAdjust="spacingAndGlyphs">Foot vibrations</text>
<text transform="translate(26,624.5) rotate(-90)" x="0" y="0" class="lg1" textLength="500" lengthAdjust="spacingAndGlyphs">Visual Analog Scale Ratings (0-100)</text>
</svg></body></html>
